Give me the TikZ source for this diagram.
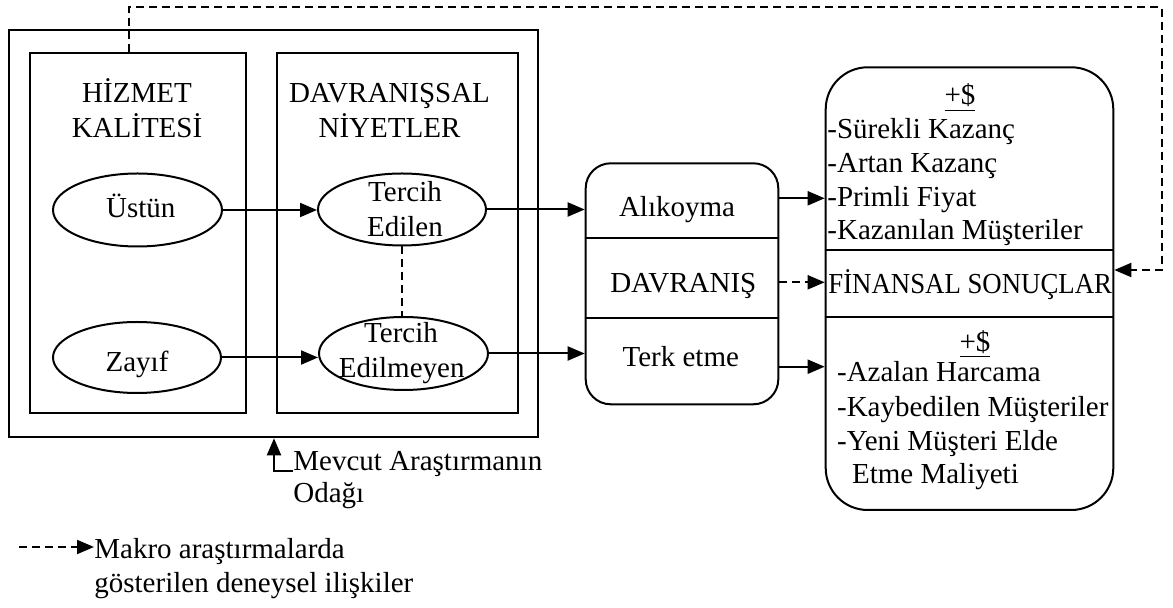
\documentclass[tikz,border=0pt]{standalone}
\usepackage{fontspec}
\usepackage{graphicx}
\setmainfont{Liberation Serif}
\usetikzlibrary{arrows.meta,shapes.geometric,calc}
\begin{document}
\begin{tikzpicture}[x=0.5pt,y=-0.5pt,
  every node/.style={font=\fontsize{14.5pt}{17pt}\selectfont},
  frame/.style={draw,line width=1pt,rectangle,inner sep=0pt},
  oval/.style={draw,line width=1pt,ellipse,inner sep=0pt},
  txt/.style={inner sep=0pt,anchor=base},
  txtw/.style={inner sep=0pt,anchor=base west},
  arr/.style={line width=1pt,-{Triangle[length=8.5pt,width=7pt]}},
  dsh/.style={dash pattern=on 4pt off 2.5pt},
  rule/.style={line width=1pt},
]
\useasboundingbox (0,0) rectangle (1173,608);

% focus of the study: outer frame and the two column frames
\node[frame, minimum width=264.1pt, minimum height=203.65pt] (outer) at (273.4,233.65) {};
\node[frame, minimum width=108pt, minimum height=180pt] (inner1) at (138,233.3) {};
\node[frame, minimum width=120.65pt, minimum height=180pt] (inner2) at (397.65,233.3) {};

\node[txt] (hk1) at (137,103) {HİZMET};
\node[txt] (hk2) at (137,138) {KALİTESİ};
\node[txt] (dn1) at (389.5,103) {DAVRANIŞSAL};
\node[txt] (dn2) at (389.5,138) {NİYETLER};

% ellipses
\node[oval, minimum width=84.5pt, minimum height=36.5pt] (ustun) at (137.5,210) {};
\node[oval, minimum width=84pt, minimum height=36pt] (edilen) at (402,209.5) {};
\node[oval, minimum width=84.5pt, minimum height=36.5pt] (edilmeyen) at (403.5,353.5) {};
\node[oval, minimum width=84pt, minimum height=35.5pt] (zayif) at (137,357.5) {};

\node[txt] (tustun) at (140.8,218) {Üstün};
\node[txt] (tzayif) at (137,371.7) {Zayıf};
\node[txt] (te1) at (405,201.7) {Tercih};
\node[txt] (te2) at (405,236.7) {Edilen};
\node[txt] (tm1) at (401,343) {Tercih};
\node[txt] (tm2) at (401.7,378) {Edilmeyen};

% behaviour box
\node[frame, rounded corners=12.5pt, minimum width=96.3pt, minimum height=120.5pt] (mid) at (682,283.8) {};
\draw[rule] (mid.west |- 0,238.3) -- (mid.east |- 0,238.3);
\draw[rule] (mid.west |- 0,317.7) -- (mid.east |- 0,317.7);
\node[txt] (alikoyma) at (677,216.7) {Alıkoyma};
\node[txt] (davranis) at (683.3,293) {DAVRANIŞ};
\node[txt] (terk) at (680.8,366.7) {Terk etme};

% financial outcomes box
\node[frame, rounded corners=21pt, minimum width=143.8pt, minimum height=221.35pt] (rbox) at (969.5,288.65) {};
\draw[rule] (rbox.west |- 0,250) -- (rbox.east |- 0,250);
\draw[rule] (rbox.west |- 0,317.3) -- (rbox.east |- 0,317.3);
\node[txt] (plus1) at (960,105) {\underline{+\$}};
\node[txtw] (r1) at (827,138.3) {-Sürekli Kazanç};
\node[txtw] (r2) at (827,173) {-Artan Kazanç};
\node[txtw] (r3) at (827,206.7) {-Primli Fiyat};
\node[txtw] (r4) at (827,240) {-Kazanılan Müşteriler};
\node[txtw] (fin) at (828,293.3) {\scalebox{0.924}[1]{FİNANSAL SONUÇLAR}};
\node[txt] (plus2) at (975,351.7) {\underline{+\$}};
\node[txtw] (r5) at (836.7,381.7) {-Azalan Harcama};
\node[txtw] (r6) at (836.7,416.7) {-Kaybedilen Müşteriler};
\node[txtw] (r7) at (836.7,450.7) {-Yeni Müşteri Elde};
\node[txtw] (r8) at (851.7,484) {Etme Maliyeti};

% focus label
\node[txtw] (mevcut1) at (293,470.7) {Mevcut Araştırmanın};
\node[txtw] (mevcut2) at (293,502.7) {Odağı};

% legend
\node[txtw] (makro1) at (94,559) {Makro araştırmalarda};
\node[txtw] (makro2) at (94,593) {gösterilen deneysel ilişkiler};
\coordinate (legtail) at (19,547);

% connectors
\draw[arr] (ustun.east) -- (ustun.east -| edilen.west);
\draw[arr] (zayif.east) -- (zayif.east -| edilmeyen.west);
\draw[arr] (edilen.east) -- (edilen.east -| mid.west);
\draw[arr] (edilmeyen.east) -- (edilmeyen.east -| mid.west);
\draw[rule,dsh] (edilen.south) -- (edilen.south |- edilmeyen.north);
\draw[arr] (mid.east |- 0,198.3) -- (rbox.west |- 0,198.3);
\draw[arr,dsh] (mid.east |- 0,282.3) -- (rbox.west |- 0,282.3);
\draw[arr] (mid.east |- 0,366.7) -- (rbox.west |- 0,366.7);
\draw[arr,dsh] (inner1.north -| 129,0) -- (129,7.3) -| (1161.7,270) -- (rbox.east |- 0,270);
\draw[arr] (mevcut1.base west) -- (274,470.7) -- (outer.south -| 274,0);
\draw[arr,dsh] (legtail) -- (legtail -| makro1.west);
\end{tikzpicture}
\end{document}
